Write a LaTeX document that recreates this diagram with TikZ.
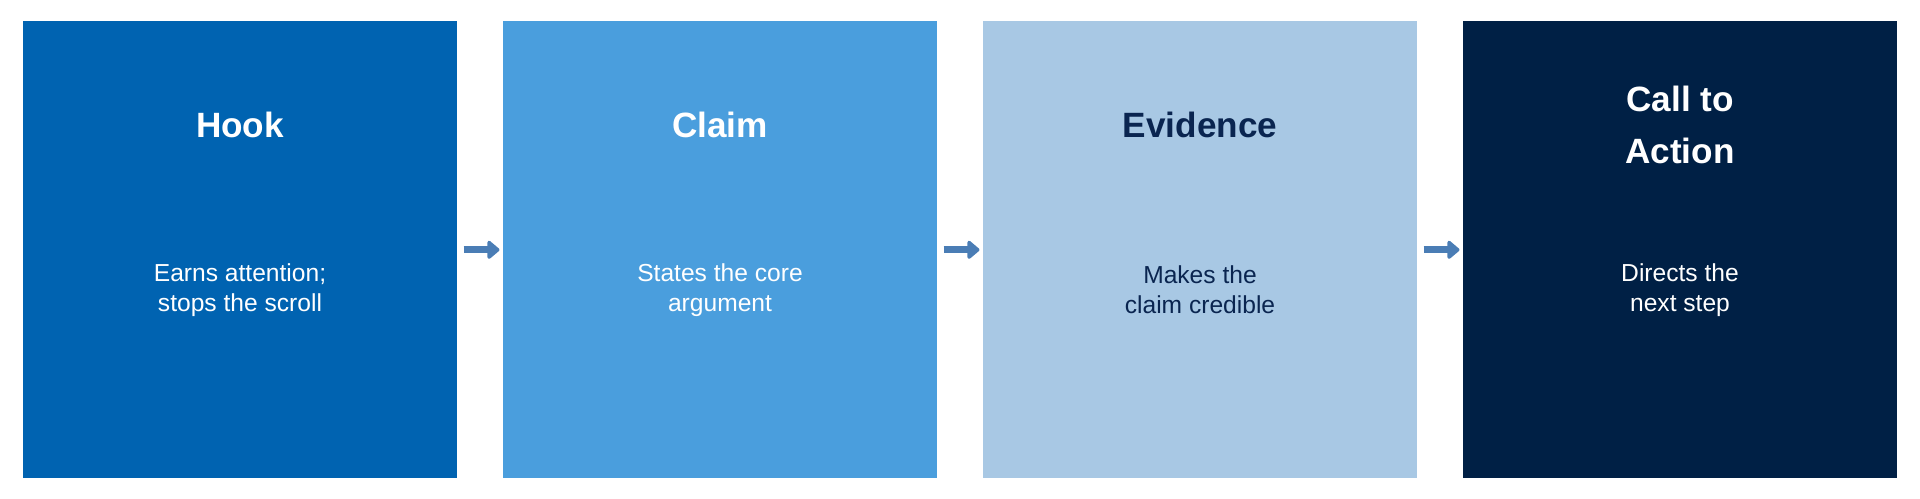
\documentclass[tikz,border=0pt]{standalone}
\usepackage{fontspec}
\setmainfont{Liberation Sans}
\usetikzlibrary{arrows.meta}
\definecolor{hookblue}{HTML}{0063B1}
\definecolor{claimblue}{HTML}{4A9EDD}
\definecolor{evidblue}{HTML}{A8C8E4}
\definecolor{actblue}{HTML}{002045}
\definecolor{arrowblue}{HTML}{4A7DB5}
\definecolor{darktext}{HTML}{0A2550}
\begin{document}
\begin{tikzpicture}[x=0.02cm, y=-0.02cm,
    box/.style = {minimum width=8.68cm, minimum height=9.14cm, inner sep=0pt, anchor=north west},
    title/.style = {font=\fontsize{20}{30}\selectfont\bfseries, align=center},
    desc/.style = {font=\fontsize{14}{17}\selectfont, align=center},
    link/.style = {arrowblue, line width=0.14cm, -{Triangle[length=0.26cm,width=0.42cm,round]}}]

    \useasboundingbox (0,0) rectangle (1920,499);

    \node [box, fill=hookblue] (hook) at (23,21) {};
    \node [box, fill=claimblue] (claim) at (503,21) {};
    \node [box, fill=evidblue] (evid) at (983,21) {};
    \node [box, fill=actblue] (act) at (1463,21) {};

    \node [title, white] (t1) at (240,125) {Hook};
    \node [title, white] (t2) at (720,125) {Claim};
    \node [title, darktext] (t3) at (1200,125) {Evidence};
    \node [title, white] (t4) at (1680,125) {Call to\\Action};

    \node [desc, white] (d1) at (240,290) {Earns attention;\\stops the scroll};
    \node [desc, white] (d2) at (720,290) {States the core\\argument};
    \node [desc, darktext] (d3) at (1200,290) {Makes the\\claim credible};
    \node [desc, white] (d4) at (1680,290) {Directs the\\next step};

    \draw [link] (hook.east) ++(6,0) coordinate (a1) -- ([xshift=-2]claim.west);
    \draw [link] (claim.east) ++(6,0) coordinate (a2) -- ([xshift=-2]evid.west);
    \draw [link] (evid.east) ++(6,0) coordinate (a3) -- ([xshift=-2]act.west);

\end{tikzpicture}
\end{document}
